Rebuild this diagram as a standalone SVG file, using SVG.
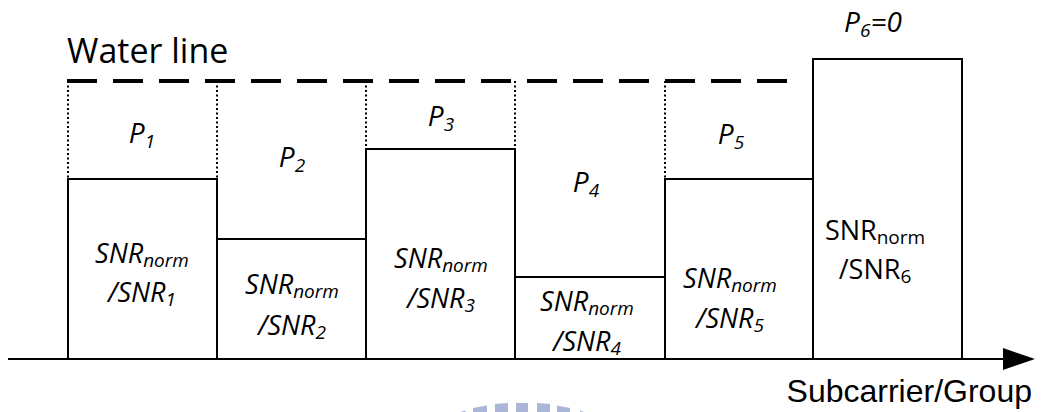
<svg xmlns="http://www.w3.org/2000/svg" width="1041" height="412" viewBox="0 0 1041 412">
<style>
.box{fill:#fff;stroke:#000;stroke-width:2}
.dot{stroke:#000;stroke-width:2;stroke-dasharray:2 2.5;fill:none}
.t{font-family:"Open Sans","Liberation Sans",sans-serif;fill:#000}
.i{font-style:italic}
.lbl{font-size:27px;text-anchor:middle}
.pl{font-size:28px}
.sub{font-size:19px}
.wm{fill:#a9b6d6}
</style>
<rect width="1041" height="412" fill="#fff"/>
<g id="watermark">
<polygon class="wm" points="460,412 465,410.5 466,412"/>
<polygon class="wm" points="473,408 487,405.5 487,412 473,412"/>
<polygon class="wm" points="495,404 508,403 508,412 495,412"/>
<polygon class="wm" points="516,403 528,403 528,412 516,412"/>
<polygon class="wm" points="537,403 550,404 550,412 537,412"/>
<polygon class="wm" points="557,405.5 570,408 570,412 557,412"/>
<polygon class="wm" points="580,410.5 584,412 580,412"/>
</g>
<g id="connectors">
<line id="water-line" x1="67" y1="81" x2="787" y2="81" stroke="#000" stroke-width="4" stroke-dasharray="30 16"/>
<path class="dot" d="M68,81V179M217,81V179M366,81V149M515,81V149M665,81V179"/>
<line id="axis" x1="8" y1="359" x2="1006" y2="359" stroke="#000" stroke-width="2"/>
<polygon points="1003,348 1035,359 1003,370" fill="#000"/>
</g>
<text class="t" x="67" y="63" font-size="34">Water line</text>
<text class="t" x="1032" y="402" font-size="32" text-anchor="end" style="font-family:'Liberation Sans',Arial,sans-serif">Subcarrier/Group</text>
<g id="node1">
<rect class="box" x="68" y="179" width="149" height="180"/>
<text class="t i lbl pl" x="142" y="143">P<tspan class="sub" dy="5">1</tspan></text>
<text class="t i lbl" x="142" y="263">SNR<tspan class="sub" dy="4">norm</tspan></text>
<text class="t i lbl" x="142" y="302">/SNR<tspan class="sub" dy="4">1</tspan></text>
</g>
<g id="node2">
<rect class="box" x="217" y="239" width="149" height="120"/>
<text class="t i lbl pl" x="292" y="167">P<tspan class="sub" dy="5">2</tspan></text>
<text class="t i lbl" x="292" y="294">SNR<tspan class="sub" dy="4">norm</tspan></text>
<text class="t i lbl" x="292" y="335">/SNR<tspan class="sub" dy="4">2</tspan></text>
</g>
<g id="node3">
<rect class="box" x="366" y="149" width="149" height="210"/>
<text class="t i lbl pl" x="441" y="126">P<tspan class="sub" dy="5">3</tspan></text>
<text class="t i lbl" x="441" y="268">SNR<tspan class="sub" dy="4">norm</tspan></text>
<text class="t i lbl" x="441" y="308">/SNR<tspan class="sub" dy="4">3</tspan></text>
</g>
<g id="node4">
<rect class="box" x="515" y="277" width="150" height="82"/>
<text class="t i lbl pl" x="586" y="192">P<tspan class="sub" dy="5">4</tspan></text>
<text class="t i lbl" x="587" y="311">SNR<tspan class="sub" dy="4">norm</tspan></text>
<text class="t i lbl" x="587" y="351">/SNR<tspan class="sub" dy="4">4</tspan></text>
</g>
<g id="node5">
<rect class="box" x="665" y="179" width="148" height="180"/>
<text class="t i lbl pl" x="731" y="144">P<tspan class="sub" dy="5">5</tspan></text>
<text class="t i lbl" x="730" y="288">SNR<tspan class="sub" dy="4">norm</tspan></text>
<text class="t i lbl" x="730" y="328">/SNR<tspan class="sub" dy="4">5</tspan></text>
</g>
<g id="node6">
<rect class="box" x="813" y="59" width="149" height="300"/>
<text class="t i lbl pl" x="873" y="32">P<tspan class="sub" dy="5">6</tspan><tspan dy="-5">=0</tspan></text>
<text class="t lbl" x="875" y="240">SNR<tspan class="sub" dy="4">norm</tspan></text>
<text class="t lbl" x="875" y="279">/SNR<tspan class="sub" dy="4">6</tspan></text>
</g>
</svg>
